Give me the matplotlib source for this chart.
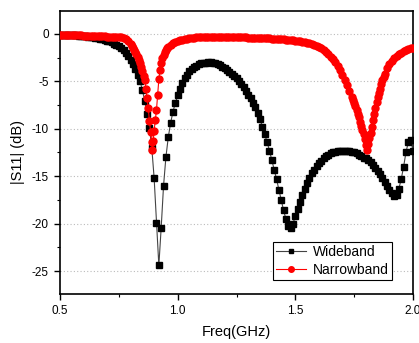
import numpy as np
import matplotlib as mpl
from matplotlib import pyplot as plt
from matplotlib.ticker import MultipleLocator

mpl.rcParams['font.family'] = ['Liberation Sans', 'DejaVu Sans']

# %% data

# Wideband, one point every 0.01 GHz from 0.5 to 2.0
wide_freq = np.round(np.linspace(0.5, 2.0, 151), 2)
wide_db = [
    -0.10, -0.10, -0.11, -0.12, -0.13, -0.14, -0.15, -0.17, -0.19, -0.21,   # 0.50
    -0.23, -0.26, -0.29, -0.32, -0.36, -0.40, -0.45, -0.51, -0.57, -0.64,   # 0.60
    -0.72, -0.81, -0.91, -1.03, -1.17, -1.33, -1.52, -1.74, -2.00, -2.35,   # 0.70
    -2.75, -3.20, -3.70, -4.30, -5.00, -5.90, -7.10, -8.40, -9.90, -12.0,   # 0.80
    -15.2, -19.9, -24.4, -20.4, -16.0, -13.0, -10.9, -9.4, -8.2, -7.3,      # 0.90
    -6.5, -5.8, -5.2, -4.7, -4.3, -3.95, -3.7, -3.5, -3.35, -3.22,          # 1.00
    -3.13, -3.07, -3.03, -3.01, -3.02, -3.06, -3.10, -3.15, -3.30, -3.45,   # 1.10
    -3.6, -3.8, -4.0, -4.2, -4.45, -4.7, -5.0, -5.3, -5.6, -6.0,            # 1.20
    -6.4, -6.8, -7.25, -7.75, -8.3, -9.0, -9.8, -10.6, -11.4, -12.3,        # 1.30
    -13.3, -14.3, -15.3, -16.4, -17.5, -18.6, -19.5, -20.2, -20.4, -20.0,   # 1.40
    -19.2, -18.4, -17.7, -17.0, -16.3, -15.7, -15.2, -14.7, -14.3, -13.9,   # 1.50
    -13.6, -13.35, -13.1, -12.9, -12.75, -12.6, -12.5, -12.42, -12.36, -12.32,  # 1.60
    -12.3, -12.3, -12.32, -12.36, -12.42, -12.5, -12.6, -12.75, -12.9, -13.1,   # 1.70
    -13.1, -13.3, -13.5, -13.8, -14.1, -14.4, -14.8, -15.2, -15.6, -16.0,   # 1.80
    -16.4, -16.8, -17.1, -17.0, -16.3, -15.3, -14.0, -12.5, -11.4, -11.2,   # 1.90
    -12.3,                                                                  # 2.00
]

# Narrowband, finer steps inside the two notches
narrow_freq = [
    0.50, 0.51, 0.52, 0.53, 0.54, 0.55, 0.56, 0.57, 0.58, 0.59,
    0.60, 0.61, 0.62, 0.63, 0.64, 0.65, 0.66, 0.67, 0.68, 0.69,
    0.70, 0.71, 0.72, 0.73, 0.74, 0.75, 0.76, 0.77, 0.78, 0.79,
    0.80, 0.805, 0.81, 0.815, 0.82, 0.825, 0.83, 0.835, 0.84, 0.845,
    0.85, 0.855, 0.86, 0.865, 0.87, 0.875, 0.88, 0.885, 0.89, 0.893,
    0.896, 0.90, 0.905, 0.91, 0.915, 0.92, 0.925, 0.93, 0.935, 0.94,
    0.945, 0.95, 0.955, 0.96, 0.97, 0.98, 0.99,
    1.00, 1.01, 1.02, 1.03, 1.04, 1.05, 1.06, 1.07, 1.08, 1.09,
    1.10, 1.11, 1.12, 1.13, 1.14, 1.15, 1.16, 1.17, 1.18, 1.19,
    1.20, 1.21, 1.22, 1.23, 1.24, 1.25, 1.26, 1.27, 1.28, 1.29,
    1.30, 1.31, 1.32, 1.33, 1.34, 1.35, 1.36, 1.37, 1.38, 1.39,
    1.40, 1.41, 1.42, 1.43, 1.44, 1.45, 1.46, 1.47, 1.48, 1.49,
    1.50, 1.51, 1.52, 1.53, 1.54, 1.55, 1.56, 1.57, 1.58, 1.59,
    1.60, 1.61, 1.62, 1.63, 1.64, 1.65, 1.66, 1.67, 1.68, 1.69,
    1.70, 1.71, 1.72, 1.73, 1.74, 1.745, 1.75, 1.755, 1.76, 1.765,
    1.77, 1.775, 1.78, 1.785, 1.79, 1.795, 1.80, 1.805, 1.81, 1.815,
    1.82, 1.825, 1.83, 1.835, 1.84, 1.845, 1.85, 1.855, 1.86, 1.865,
    1.87, 1.875, 1.88, 1.89, 1.90, 1.91, 1.92, 1.93, 1.94, 1.95,
    1.96, 1.97, 1.98, 1.99, 2.00,
]
narrow_db = [
    -0.15, -0.15, -0.15, -0.16, -0.16, -0.16, -0.17, -0.17, -0.18, -0.18,
    -0.19, -0.20, -0.21, -0.22, -0.23, -0.24, -0.25, -0.26, -0.27, -0.28,
    -0.29, -0.30, -0.31, -0.32, -0.33, -0.33, -0.36, -0.42, -0.55, -0.75,
    -1.05, -1.25, -1.45, -1.70, -1.90, -2.15, -2.45, -2.75, -3.10, -3.45,
    -3.90, -4.40, -4.90, -5.80, -6.80, -7.80, -9.20, -10.3, -11.4, -12.2,
    -11.3, -10.2, -9.1, -8.0, -6.4, -4.8, -3.8, -3.1, -2.6, -2.2,
    -1.95, -1.75, -1.55, -1.40, -1.15, -0.98, -0.86,
    -0.76, -0.68, -0.61, -0.55, -0.50, -0.46, -0.43, -0.40, -0.38, -0.36,
    -0.35, -0.34, -0.34, -0.33, -0.33, -0.33, -0.33, -0.33, -0.33, -0.34,
    -0.34, -0.35, -0.35, -0.36, -0.36, -0.37, -0.37, -0.38, -0.38, -0.39,
    -0.40, -0.41, -0.42, -0.43, -0.44, -0.45, -0.46, -0.47, -0.48, -0.49,
    -0.50, -0.52, -0.54, -0.56, -0.58, -0.60, -0.62, -0.65, -0.67, -0.70,
    -0.72, -0.76, -0.80, -0.84, -0.89, -0.95, -1.02, -1.10, -1.20, -1.30,
    -1.40, -1.55, -1.70, -1.90, -2.10, -2.40, -2.65, -3.0, -3.35, -3.80,
    -4.3, -4.9, -5.4, -6.0, -6.7, -7.0, -7.3, -7.65, -8.0, -8.4,
    -8.8, -9.25, -9.7, -10.15, -10.6, -11.1, -11.7, -12.2, -11.6, -11.0,
    -10.4, -9.8, -9.1, -8.4, -7.8, -7.2, -6.7, -6.2, -5.8, -5.3,
    -4.9, -4.55, -4.2, -3.6, -3.2, -2.9, -2.6, -2.35, -2.15, -2.0,
    -1.85, -1.75, -1.65, -1.55, -1.5,
]

# %% plot

fig = plt.figure(figsize=(4.19, 3.43), dpi=100)
ax = fig.add_axes([0.1432, 0.1429, 0.8425, 0.8251])

ax.plot(wide_freq, wide_db, color='#444444', lw=0.8, marker='s', ms=4.2,
        mfc='black', mec='black', label='Wideband', zorder=3)
ax.plot(narrow_freq, narrow_db, color='red', lw=0.8, marker='o', ms=5.0,
        mfc='red', mec='red', label='Narrowband', zorder=4)

ax.set_xlim(0.5, 2.0)
ax.set_ylim(-27.4, 2.4)
ax.xaxis.set_major_locator(MultipleLocator(0.5))
ax.xaxis.set_minor_locator(MultipleLocator(0.25))
ax.yaxis.set_major_locator(MultipleLocator(5))
ax.yaxis.set_minor_locator(MultipleLocator(2.5))
ax.set_xticks([0.5, 1.0, 1.5, 2.0])
ax.set_xticklabels(['0.5', '1.0', '1.5', '2.0'])
ax.set_yticks([0, -5, -10, -15, -20, -25])
ax.set_yticklabels(['0', '-5', '-10', '-15', '-20', '-25'])
ax.tick_params(which='major', direction='out', length=4, width=1, labelsize=8.5, pad=4)
ax.tick_params(which='minor', direction='out', length=2.5, width=0.8)

ax.grid(axis='y', which='major', color='#bbbbbb', linestyle=(0, (1, 2)), lw=0.8)
ax.set_axisbelow(True)

for s in ax.spines.values():
    s.set_linewidth(1.2)

ax.set_xlabel('Freq(GHz)', fontsize=10.5, labelpad=6)
ax.set_ylabel('|S11| (dB)', fontsize=10.5, labelpad=5)

leg = ax.legend(loc='lower right', bbox_to_anchor=(0.9405, 0.0495), borderaxespad=0,
                fancybox=False, edgecolor='black', framealpha=1, fontsize=10,
                handlelength=2.2, handletextpad=0.5, labelspacing=0.3, borderpad=0.2,
                markerscale=0.8)
leg.get_frame().set_linewidth(0.8)

plt.savefig('out.png', dpi=100)
